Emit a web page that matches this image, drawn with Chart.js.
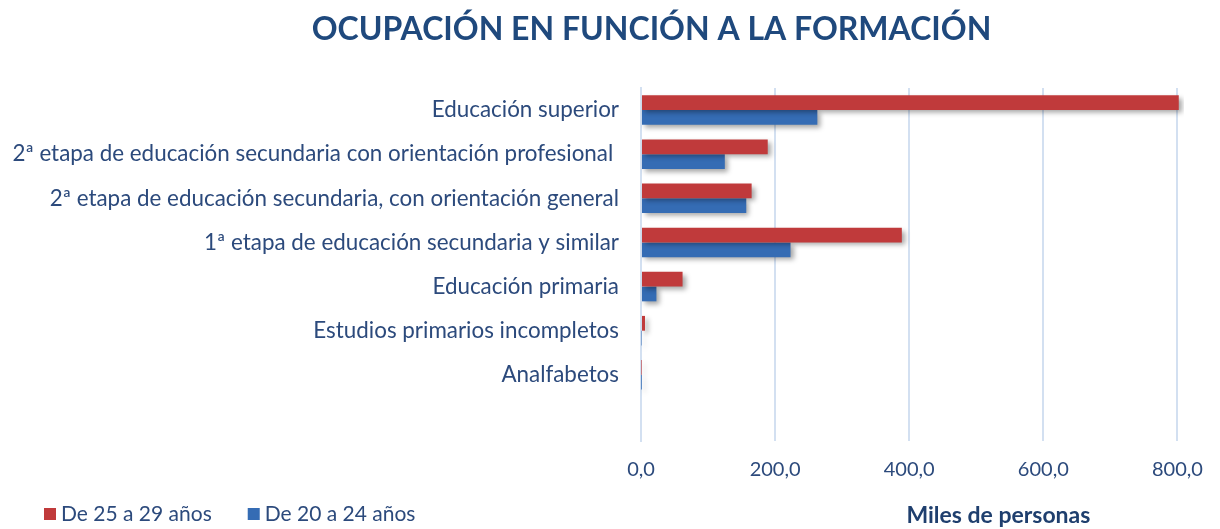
<!DOCTYPE html>
<html>
<head>
<meta charset="utf-8">
<script src="https://cdn.jsdelivr.net/npm/chart.js@4"></script>
<style>
  html, body { margin: 0; padding: 0; background: #fff; }
  #wrap { width: 1220px; height: 529px; }
</style>
</head>
<body>
<div id="wrap"><canvas id="chart"></canvas></div>
<script>
// categories (last slot left empty, as in the original layout)
const categories = [
  'Educación superior',
  '2ª etapa de educación secundaria con orientación profesional ',
  '2ª etapa de educación secundaria, con orientación general',
  '1ª etapa de educación secundaria y similar',
  'Educación primaria',
  'Estudios primarios incompletos',
  'Analfabetos',
  ''
];
const seriesNames = ['De 25 a 29 años', 'De 20 a 24 años'];
const seriesColors = ['#c03a3b', '#356cb4'];
const age25to29 = [802, 189, 165, 389, 62, 6, 0.6, null];
const age20to24 = [263, 125, 157, 223, 23, 0.8, 0.4, null];
const xTicks = [0, 200, 400, 600, 800];

const FONT = 'Lato, "Open Sans", sans-serif';
const TEXT = '#2c4a7c';
const LABEL_SIZE = 22.4;
const LABEL_PAD = 22;

// soft drop shadow under bars, like the office chart
const barShadow = {
  id: 'barShadow',
  beforeDatasetsDraw(chart) {
    const c = chart.ctx;
    c.save();
    c.shadowColor = 'rgba(0,0,0,0.35)';
    c.shadowBlur = 5;
    c.shadowOffsetX = 3;
    c.shadowOffsetY = 3;
  },
  afterDatasetsDraw(chart) { chart.ctx.restore(); }
};

// title (a bit left of centre), legend and axis title on one row at the bottom
const texts = {
  id: 'texts',
  afterDraw(chart) {
    const { ctx, chartArea, width, height } = chart;
    ctx.save();
    ctx.textAlign = 'center';
    ctx.textBaseline = 'middle';
    ctx.fillStyle = '#1f497d';
    ctx.font = 'bold 32px ' + FONT;
    ctx.fillText('OCUPACIÓN EN FUNCIÓN A LA FORMACIÓN', width * 0.534, 30);

    ctx.font = 'bold 23px ' + FONT;
    ctx.fillStyle = '#1f3f6e';
    ctx.fillText('Miles de personas', chartArea.left + (chartArea.right - chartArea.left) * 0.658, height - 13);

    // legend
    const y = height - 15;
    let x = 44;
    ctx.textAlign = 'left';
    ctx.font = '21px ' + FONT;
    chart.data.datasets.forEach(ds => {
      ctx.fillStyle = ds.backgroundColor;
      ctx.fillRect(x, y - 6, 12, 12);
      ctx.fillStyle = TEXT;
      ctx.fillText(ds.label, x + 17, y);
      x += 17 + ctx.measureText(ds.label).width + 36;
    });
    ctx.restore();
  }
};

// let the category axis be as wide as its longest label (Chart.js caps it at half the width)
function fitLabels(scale) {
  const c = scale.chart.ctx;
  c.save();
  c.font = LABEL_SIZE + 'px ' + FONT;
  const w = Math.max(...categories.map(s => c.measureText(s).width));
  c.restore();
  scale.width = Math.ceil(w) + LABEL_PAD + 2;
}

new Chart(document.getElementById('chart'), {
  type: 'bar',
  data: {
    labels: categories,
    datasets: [
      { label: seriesNames[0], data: age25to29, backgroundColor: seriesColors[0], borderWidth: 0 },
      { label: seriesNames[1], data: age20to24, backgroundColor: seriesColors[1], borderWidth: 0 }
    ]
  },
  options: {
    indexAxis: 'y',
    responsive: true,
    maintainAspectRatio: false,
    animation: false,
    layout: { padding: { left: 10, right: 9, top: 88, bottom: 30 } },
    categoryPercentage: 0.67,
    barPercentage: 1.0,
    plugins: {
      title: { display: false },
      legend: { display: false },
      tooltip: { enabled: false }
    },
    scales: {
      x: {
        min: 0,
        max: 810,
        afterBuildTicks(scale) { scale.ticks = xTicks.map(v => ({ value: v })); },
        ticks: {
          color: TEXT,
          font: { family: FONT, size: 20 },
          padding: 17,
          callback: v => v.toFixed(1).replace('.', ',')
        },
        grid: { color: '#d3e0f1', lineWidth: 2, drawTicks: false },
        border: { display: false }
      },
      y: {
        afterFit: fitLabels,
        ticks: {
          color: TEXT,
          font: { family: FONT, size: LABEL_SIZE },
          padding: LABEL_PAD,
          autoSkip: false
        },
        grid: { display: false, drawTicks: false },
        border: { color: '#d3e0f1', width: 2 }
      }
    }
  },
  plugins: [barShadow, texts]
});
</script>
</body>
</html>
